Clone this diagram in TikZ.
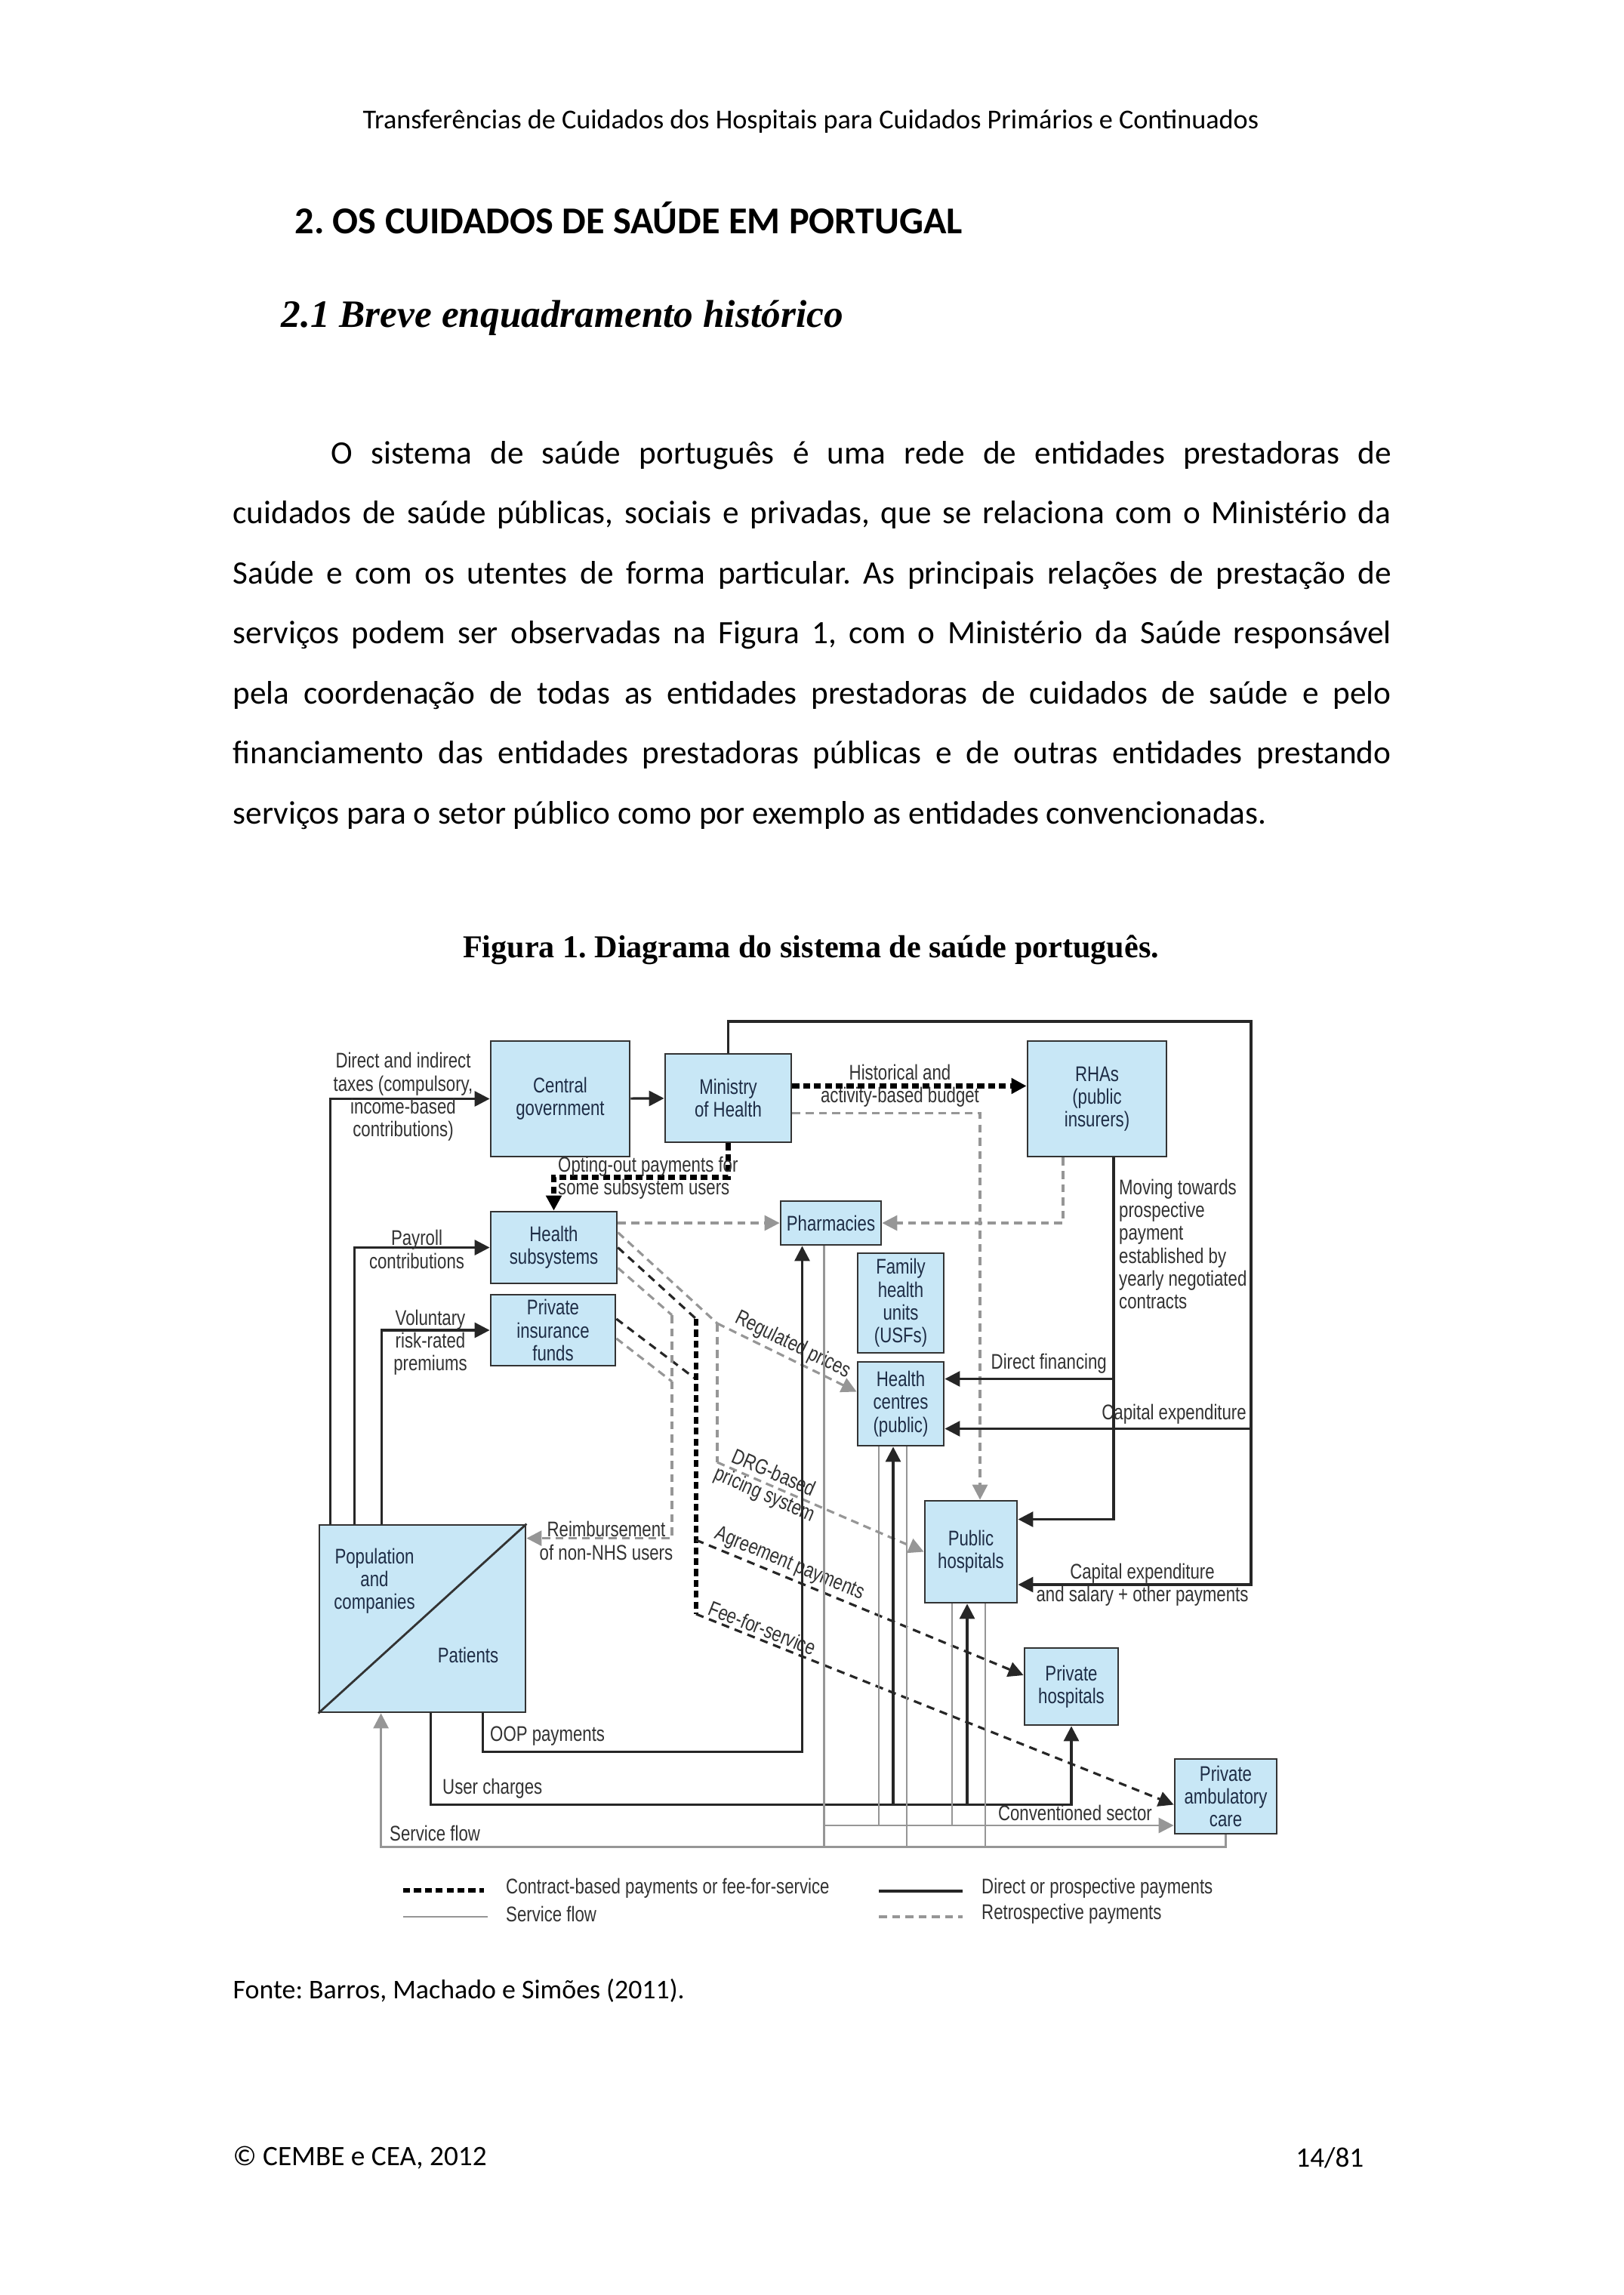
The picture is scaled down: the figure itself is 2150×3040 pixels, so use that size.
\documentclass[tikz,border=0pt]{standalone}
\usepackage{fontspec}
\setmainfont{Carlito}
\newfontfamily\serifb{Liberation Serif}
\newfontfamily\diagfont[FakeStretch=0.79]{Liberation Sans}
\usetikzlibrary{positioning, arrows.meta, calc}
\frenchspacing

\definecolor{boxblue}{RGB}{200,231,246}
\definecolor{boxtext}{RGB}{30,45,70}
\definecolor{labtext}{RGB}{50,50,50}
\definecolor{svgray}{RGB}{150,150,150}

\begin{document}
\begin{tikzpicture}[
  x=0.1mm, y=-0.1mm,
  font=\diagfont\fontsize{8}{8.6}\selectfont,
  org/.style={draw=black!80, line width=0.8pt, fill=boxblue, text=boxtext, align=center, inner sep=1pt},
  lbl/.style={text=labtext, align=center, inner sep=1pt},
  pay/.style={draw=black!85, line width=0.9pt},
  contract/.style={draw=black, line width=1.8pt, dash pattern=on 2.6pt off 1.5pt},
  fee/.style={draw=black!85, line width=0.9pt, dash pattern=on 3pt off 2.2pt},
  retro/.style={draw=svgray, line width=0.9pt, dash pattern=on 3pt off 2pt},
  serv/.style={draw=svgray, line width=0.8pt},
  tip/.style={-{Triangle[length=2mm, width=2mm]}},
  page/.style={font=\fontsize{12.3}{14}\selectfont, inner sep=0pt}
]
\fill[white] (0,0) rectangle (2150,3040);
\useasboundingbox (0,0) rectangle (2150,3040);

% page text
\node[page, font=\fontsize{10.3}{12}\selectfont] (runhead) at (1074,161) {Transferências de Cuidados dos Hospitais para Cuidados Primários e Continuados};
\node[page, font=\fontsize{14.3}{16}\selectfont\bfseries, anchor=west] (chap) at (390,289) {2. OS CUIDADOS DE SAÚDE EM PORTUGAL};
\node[page, font=\serifb\fontsize{14.6}{16}\selectfont\bfseries\itshape, anchor=west] (sect) at (372,421) {2.1 Breve enquadramento histórico};
\node[page, anchor=west] (par1) at (438,603) {\makebox[140.4mm][s]{O sistema de saúde português é uma rede de entidades prestadoras de}};
\node[page, anchor=west] (par2) at (308,682) {\makebox[153.4mm][s]{cuidados de saúde públicas, sociais e privadas, que se relaciona com o Ministério da}};
\node[page, anchor=west] (par3) at (308,762) {\makebox[153.4mm][s]{Saúde e com os utentes de forma particular. As principais relações de prestação de}};
\node[page, anchor=west] (par4) at (308,841) {\makebox[153.4mm][s]{serviços podem ser observadas na Figura 1, com o Ministério da Saúde responsável}};
\node[page, anchor=west] (par5) at (308,921) {\makebox[153.4mm][s]{pela coordenação de todas as entidades prestadoras de cuidados de saúde e pelo}};
\node[page, anchor=west] (par6) at (308,1000) {\makebox[153.4mm][s]{financiamento das entidades prestadoras públicas e de outras entidades prestando}};
\node[page, anchor=west] (par7) at (308,1080) {serviços para o setor público como por exemplo as entidades convencionadas.};
\node[page, font=\serifb\fontsize{12}{14}\selectfont\bfseries] (caption) at (1074,1258) {Figura 1. Diagrama do sistema de saúde português.};
\node[page, font=\fontsize{10.2}{12}\selectfont, anchor=west] (source) at (308,2637) {Fonte: Barros, Machado e Simões (2011).};
\node[page, font=\fontsize{10.6}{13}\selectfont, anchor=west] (copy) at (308,2858) {© CEMBE e CEA, 2012};
\node[page, font=\fontsize{10.6}{13}\selectfont, anchor=east] (pageno) at (1807,2858) {14/81};

% organisations
\node[org, minimum width=18.4mm, minimum height=15.3mm] (cgov) at (742,1455.5) {Central\\government};
\node[org, minimum width=16.7mm, minimum height=11.7mm] (moh) at (964.5,1454.5) {Ministry\\of Health};
\node[org, minimum width=18.4mm, minimum height=15.3mm] (rha) at (1453,1455.5) {RHAs\\(public\\insurers)};
\node[org, minimum width=16.7mm, minimum height=9.5mm] (hsub) at (733.5,1652.5) {Health\\subsystems};
\node[org, minimum width=16.5mm, minimum height=9.4mm] (pif) at (732.5,1762) {Private\\insurance\\funds};
\node[org, minimum width=13.3mm, minimum height=5.8mm] (pharm) at (1100.5,1620) {Pharmacies};
\node[org, minimum width=11.4mm, minimum height=13.2mm] (fhu) at (1193,1726) {Family\\health\\units\\(USFs)};
\node[org, minimum width=11.4mm, minimum height=11.1mm] (hc) at (1193,1859.5) {Health\\centres\\(public)};
\node[org, minimum width=12.2mm, minimum height=13.5mm] (pubh) at (1286,2055.5) {Public\\hospitals};
\node[org, minimum width=12.4mm, minimum height=10.2mm] (privh) at (1419,2234) {Private\\hospitals};
\node[org, minimum width=13.5mm, minimum height=9.9mm] (pac) at (1623.5,2379.5) {Private\\ambulatory\\care};
\node[org, minimum width=27.3mm, minimum height=24.8mm] (pop) at (559.5,2144) {};
\draw[draw=black!80, line width=0.8pt] (pop.south west) -- (pop.north east);
\node[lbl, text=boxtext] (popname) at (496,2094) {Population\\and\\companies};
\node[lbl, text=boxtext] (patients) at (620,2192) {Patients};

% financing into the system
\draw[pay, tip] ($(pop.north west)+(16,0)$) |- (cgov.west);
\draw[pay, tip] ($(pop.north west)+(48,0)$) |- (hsub.west);
\draw[pay, tip] ($(pop.north west)+(84,0)$) |- (pif.west);
\node[lbl] (taxlbl) at (534,1453) {Direct and indirect\\taxes (compulsory,\\income-based\\contributions)};
\node[lbl] (paylbl) at (552,1655) {Payroll\\contributions};
\node[lbl] (vollbl) at (570,1778) {Voluntary\\risk-rated\\premiums};
\draw[pay, tip] (cgov) -- (moh);

% ministry and RHAs
\coordinate (frTop) at (1657,1353);
\coordinate (frBot) at (1657,2099);
\coordinate (hcCap) at ($(hc.east)+(0,33)$);
\coordinate (hcFin) at ($(hc.east)+(0,-33)$);
\draw[pay, tip] (moh.north) |- (frTop) -- (frBot) -- (pubh.east |- frBot);
\draw[pay, tip] (frTop |- hcCap) -- (hcCap);
\node[lbl, anchor=south east] (caplbl) at (1655,1891) {Capital expenditure};
\node[lbl] (salarylbl) at (1513,2099) {Capital expenditure\\and salary + other payments};
\draw[contract, tip] ($(moh.east)+(0,-16)$) -- ($(rha.west)+(0,-17)$);
\node[lbl] (budgetlbl) at (1192,1438) {Historical and\\activity-based budget};
\draw[retro, tip] ($(moh.east)+(0,20)$) -| ($(pubh.north)+(12,0)$);
\draw[contract, tip] (moh.south) -- ++(0,45) -| (hsub.north);
\node[lbl, anchor=west, align=left] (optlbl) at (735,1560) {Opting-out payments for\\some subsystem users};
\draw[retro, tip] ($(rha.south)+(-45,0)$) |- (pharm.east);
\coordinate (mv) at ($(rha.south)+(22,0)$);
\draw[pay, tip] (mv) |- ($(pubh.east)+(0,-43)$);
\draw[pay, tip] (mv |- hcFin) -- (hcFin);
\node[lbl, anchor=west, align=left] (movelbl) at (1478,1648) {Moving towards\\prospective\\payment\\established by\\yearly negotiated\\contracts};
\node[lbl, anchor=south east] (finlbl) at (1470,1824) {Direct financing};

% insurers to providers
\draw[retro, tip] (hsub.east |- pharm.west) -- (pharm.west);
\coordinate (jr) at (890,1742);
\coordinate (jk) at (922,1747);
\coordinate (jg) at (950,1753);
\coordinate (jr2) at (890,1830);
\coordinate (jk2) at (922,1827);
\coordinate (jd) at (950,1937);
\coordinate (ja) at (922,2040);
\coordinate (jf) at (922,2138);
\draw[retro] ($(hsub.east)+(0,-20)$) -- (jg);
\draw[fee] (hsub.east) -- (jk);
\draw[retro] ($(hsub.east)+(0,27)$) -- (jr);
\draw[fee] ($(pif.east)+(0,-15)$) -- (jk2);
\draw[retro] ($(pif.east)+(0,11)$) -- (jr2);
\draw[contract] (jk) -- (jf);
\draw[retro, tip] (jr) |- ($(pop.north east)+(0,19)$);
\node[lbl] (reimblbl) at (803,2041) {Reimbursement\\of non-NHS users};
\draw[retro, tip] (jg) -- node[lbl, sloped, above, pos=0.5] (reglbl) {Regulated prices} ($(hc.west)+(0,-16)$);
\draw[retro] (jg) -- (jd);
\draw[retro, tip] (jd) -- node[lbl, sloped, pos=0.25] (drglbl) {DRG-based\\pricing system} (pubh.west);
\draw[fee, tip] (ja) -- node[lbl, sloped, above, pos=0.27] (agrlbl) {Agreement payments} ($(privh.west)+(0,-15)$);
\draw[fee, tip] (jf) -- node[lbl, sloped, above, pos=0.13] (feelbl) {Fee-for-service} ($(pac.west)+(0,11)$);

% patients paying
\draw[pay, tip] ($(pop.south east)+(-58,0)$) -- ++(0,51) -| ($(pharm.south)+(-38,0)$);
\node[lbl, anchor=south west] (ooplbl) at (645,2317) {OOP payments};
\coordinate (uc) at ($(pop.south west)+(149,121)$);
\draw[pay, tip] ($(pop.south west)+(149,0)$) -- (uc) -| (privh.south);
\node[lbl, anchor=south west] (userlbl) at (582,2387) {User charges};
\coordinate (hcIn) at ($(hc.south)+(-10,0)$);
\coordinate (phIn) at ($(pubh.south)+(-5,0)$);
\draw[pay, tip] (hcIn |- uc) -- (hcIn);
\draw[pay, tip] (phIn |- uc) -- (phIn);

% service flow
\coordinate (cs) at (0,2418);
\coordinate (sf) at (0,2445);
\coordinate (pharmOut) at ($(pharm.south)+(-9,0)$);
\coordinate (hcOut1) at ($(hc.south)+(-29,0)$);
\coordinate (hcOut2) at ($(hc.south)+(8,0)$);
\coordinate (phOut1) at ($(pubh.south)+(-25,0)$);
\coordinate (phOut2) at ($(pubh.south)+(19,0)$);
\draw[serv] (pharmOut) -- (pharmOut |- sf);
\draw[serv] (hcOut1) -- (hcOut1 |- cs);
\draw[serv] (hcOut2) -- (hcOut2 |- sf);
\draw[serv] (phOut1) -- (phOut1 |- cs);
\draw[serv] (phOut2) -- (phOut2 |- sf);
\draw[serv, tip] (pharmOut |- cs) -- (pac.west |- cs);
\node[lbl, anchor=south east] (convlbl) at (1530,2416) {Conventioned sector};
\draw[serv, tip] (pac.south) |- ($(pop.south west)+(83,177)$) -- ($(pop.south west)+(83,0)$);
\node[lbl, anchor=south west] (sflbl) at (512,2443) {Service flow};

% legend
\draw[contract] (534,2504) -- (641,2504);
\draw[serv] (534,2539) -- (646,2539);
\draw[pay] (1164,2505) -- (1275,2505);
\draw[retro] (1164,2539) -- (1275,2539);
\node[lbl, anchor=west] (leg1) at (666,2501) {Contract-based payments or fee-for-service};
\node[lbl, anchor=west] (leg2) at (666,2535) {Service flow};
\node[lbl, anchor=west] (leg3) at (1296,2501) {Direct or prospective payments};
\node[lbl, anchor=west] (leg4) at (1296,2535) {Retrospective payments};
\end{tikzpicture}
\end{document}
